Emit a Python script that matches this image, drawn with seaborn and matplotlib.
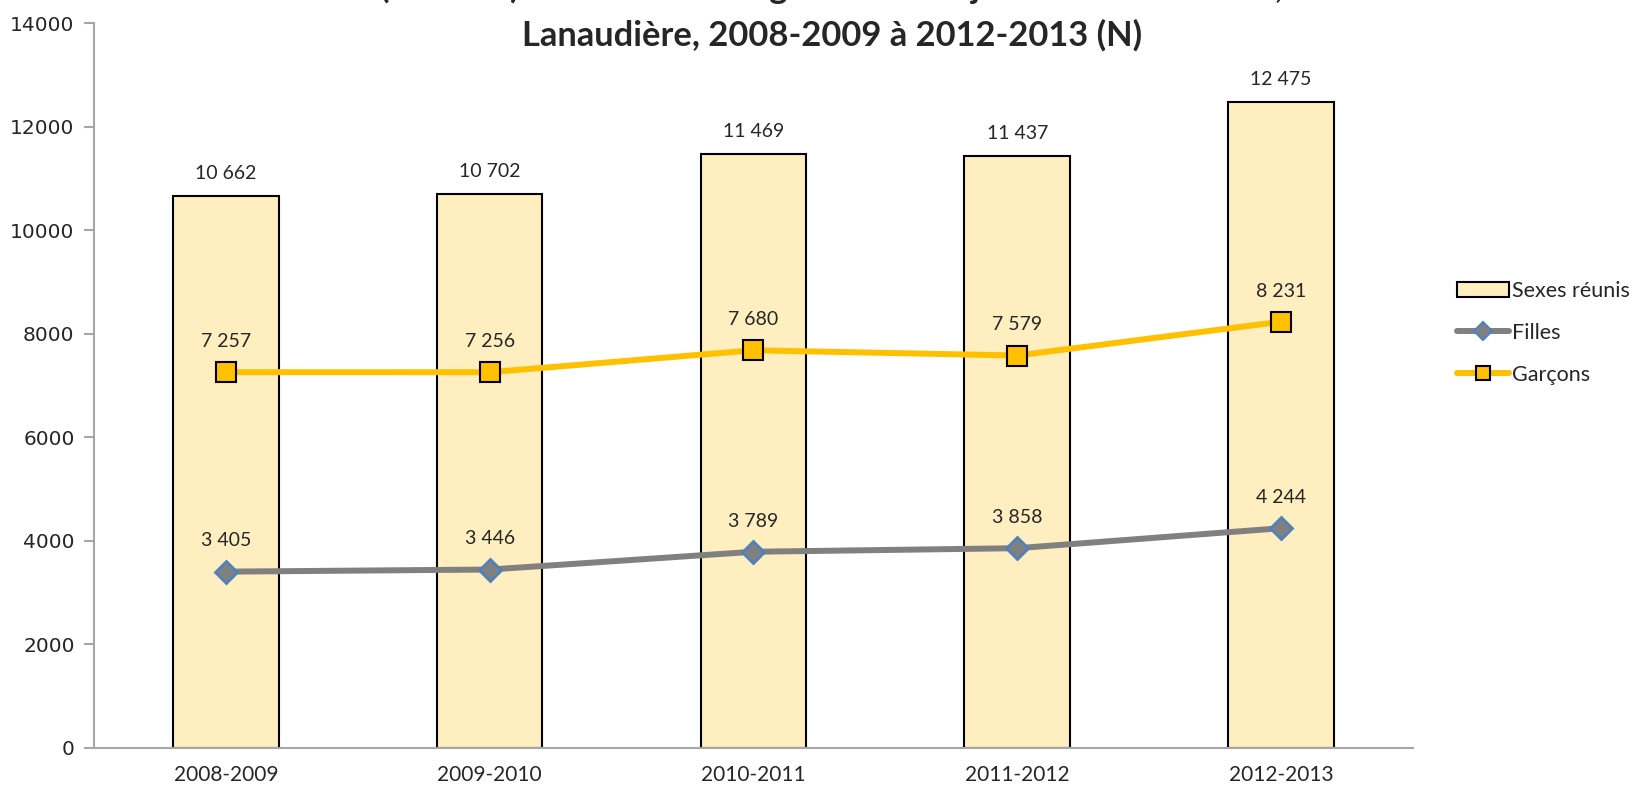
import matplotlib
matplotlib.use("Agg")
import matplotlib.pyplot as plt
import seaborn as sns
import pandas as pd
from matplotlib.patches import Patch
from matplotlib.lines import Line2D

years = ["2008-2009", "2009-2010", "2010-2011", "2011-2012", "2012-2013"]
total = [10662, 10702, 11469, 11437, 12475]
filles = [3405, 3446, 3789, 3858, 4244]
garcons = [7257, 7256, 7680, 7579, 8231]

title_lines = [
    "(EHDAA) de la formation générale des jeunes selon le sexe,",
    "Lanaudière, 2008-2009 à 2012-2013 (N)",
]

sns.set_theme(style="white")
plt.rcParams['font.family'] = ['Lato', 'DejaVu Sans']

BAR = "#FFEEBF"
ORANGE = "#FFC000"
GREY = "#808080"
BLUE = "#4F81BD"
AXIS = "#A6A6A6"

fig = plt.figure(figsize=(16.41, 7.88), dpi=100)
ax = fig.add_axes([0.0573, 0.0508, 0.8037, 0.92])

df = pd.DataFrame({"annee": years, "total": total, "filles": filles, "garcons": garcons})

sns.barplot(data=df, x="annee", y="total", order=years, color=BAR, width=0.40,
            edgecolor="black", linewidth=1.5, saturation=1, ax=ax, zorder=2)

xpos = list(range(len(years)))
ax.plot(xpos, filles, color=GREY, lw=4.3, marker="D", markersize=11.5,
        markerfacecolor=GREY, markeredgecolor=BLUE, markeredgewidth=2, zorder=3,
        solid_capstyle="round")
ax.plot(xpos, garcons, color=ORANGE, lw=4.3, marker="s", markersize=14,
        markerfacecolor=ORANGE, markeredgecolor="black", markeredgewidth=1.5, zorder=3,
        solid_capstyle="round")

def fmt(v):
    return f"{v:,}".replace(",", " ")

LBL = 14
for i, v in enumerate(total):
    ax.annotate(fmt(v), (i, v), xytext=(0, 10), textcoords="offset points",
                ha="center", va="bottom", fontsize=LBL)
for i, v in enumerate(filles):
    ax.annotate(fmt(v), (i, v), xytext=(0, 16), textcoords="offset points",
                ha="center", va="bottom", fontsize=LBL)
for i, v in enumerate(garcons):
    ax.annotate(fmt(v), (i, v), xytext=(0, 16), textcoords="offset points",
                ha="center", va="bottom", fontsize=LBL)

ax.set_xlim(-0.5, 4.5)
ax.set_ylim(0, 14000)
ax.set_yticks(range(0, 14001, 2000))
ax.set_yticklabels([str(t) for t in range(0, 14001, 2000)], family="DejaVu Sans", fontsize=14.5)
ax.set_xlabel("")
ax.set_ylabel("")
for lbl in ax.get_xticklabels():
    lbl.set_fontsize(15)
ax.tick_params(axis="x", length=0, pad=12)
ax.tick_params(axis="y", length=7, width=1.5, color=AXIS, direction="out", left=True, pad=7)
for s in ["top", "right"]:
    ax.spines[s].set_visible(False)
ax.spines["left"].set_color(AXIS)
ax.spines["left"].set_linewidth(1.5)
ax.spines["bottom"].set_color(AXIS)
ax.spines["bottom"].set_linewidth(1.5)

fig.text(832 / 1641, 1 - 46 / 788, "\n".join(title_lines), ha="center", va="baseline",
         fontsize=24.8, fontweight="bold", linespacing=1.6,
         family=["Lato", "DejaVu Sans"])

handles = [
    Patch(facecolor=BAR, edgecolor="black", linewidth=1.5),
    Line2D([0], [0], color=GREY, lw=4.3, marker="D", markersize=9,
           markerfacecolor=GREY, markeredgecolor=BLUE, markeredgewidth=1.5),
    Line2D([0], [0], color=ORANGE, lw=4.3, marker="s", markersize=10,
           markerfacecolor=ORANGE, markeredgecolor="black", markeredgewidth=1.5),
]
fig.legend(handles, ["Sexes réunis", "Filles", "Garçons"], loc="center left",
           bbox_to_anchor=(0.876, 1 - 333 / 788), frameon=False, fontsize=15.5,
           handlelength=2.4, handletextpad=0.15, labelspacing=1.0)

fig.savefig("out.png", dpi=100)
